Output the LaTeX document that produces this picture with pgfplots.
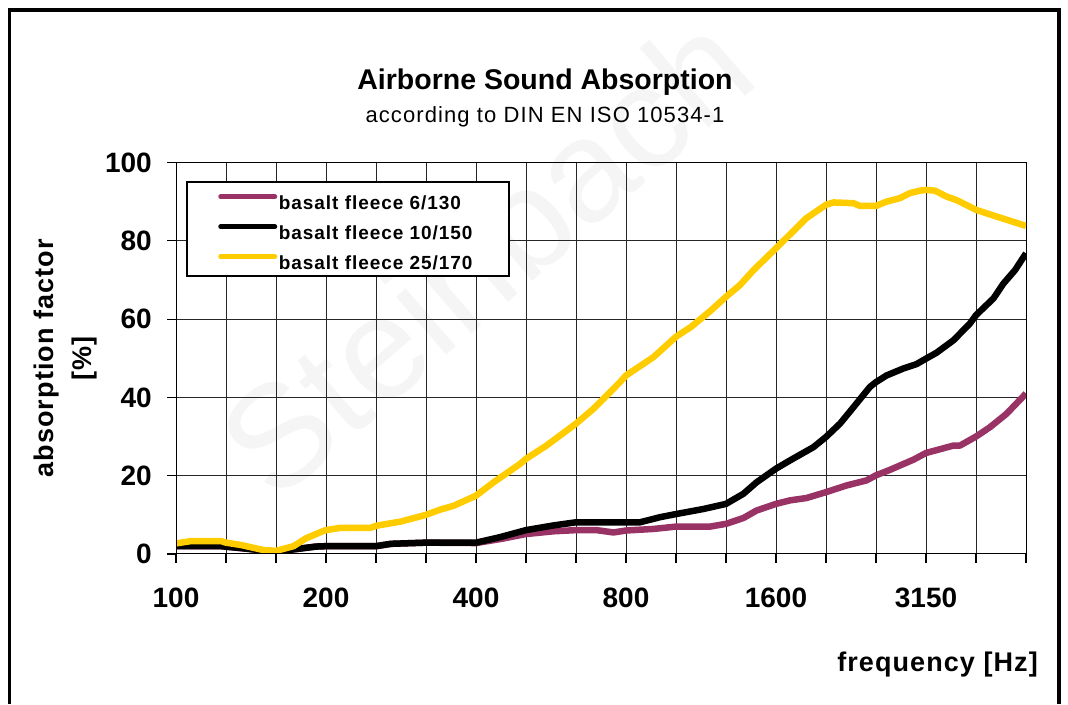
\documentclass[border=0pt]{standalone}
\usepackage{fontspec}
\setmainfont{Liberation Sans}
\usepackage{pgfplots}
\pgfplotsset{compat=1.18}

\definecolor{plum}{HTML}{993366}
\definecolor{gold}{HTML}{FFCC00}

\begin{document}
\begin{tikzpicture}
\path[use as bounding box] (0pt,0pt) rectangle (1068pt,704pt);
% faint watermark
\node[rotate=41, text=black!4, font=\fontsize{145}{145}\selectfont] at (485pt,450pt) {Steinbach};
% frame
\draw[line width=3.3pt] (9.5pt,0pt) -- (9.5pt,694pt) -- (1059pt,694pt) -- (1059pt,0pt);

\begin{axis}[
  at={(176pt,150pt)}, anchor=south west,
  scale only axis, width=850pt, height=391.5pt,
  xmin=0, xmax=17, ymin=0, ymax=100,
  xtick={0,1,...,17},
  xticklabels={100,,,200,,,400,,,800,,,1600,,,3150,,},
  ytick={0,20,40,60,80,100},
  tick pos=left, tick align=outside,
  major tick length=9pt,
  tick style={black, line width=1.1pt},
  grid=major,
  major grid style={black!85, line width=1pt},
  axis line style={black, line width=1pt},
  /pgf/number format/assume math mode=true,
  ticklabel style={font=\bfseries\fontsize{28}{28}\selectfont, inner sep=0pt},
  xticklabel shift=25pt, yticklabel shift=15pt,
  xlabel={frequency [Hz]},
  xlabel style={at={(axis description cs:1.0141,-0.3006)}, anchor=base east, inner sep=0pt,
    font={\bfseries\fontsize{27}{27}\selectfont\addfontfeatures{LetterSpace=4}}},
  ylabel={absorption factor\\{[\%]}},
  ylabel style={at={(axis description cs:-0.13,0.5)}, anchor=center, align=center,
    font={\bfseries\fontsize{27}{38}\selectfont\addfontfeatures{LetterSpace=4}}},
  legend cell align=left,
  legend style={at={(rel axis cs:0.0118,0.9527)}, anchor=north west,
    draw=black, line width=1.5pt, fill=white,
    inner xsep=0pt, inner ysep=2pt, row sep=0pt, column sep=0pt,
    font={\bfseries\fontsize{19}{22}\selectfont\addfontfeatures{LetterSpace=5}},
    nodes={inner sep=0pt, text width=230pt, align=left}},
  legend image code/.code={
    \path[draw=none, fill=none] (0pt,-10pt) rectangle (92pt,20pt);
    \draw[#1, line width=5pt, line cap=round] (34pt,7pt) -- (88pt,7pt);},
]
\addplot[plum, line width=6.5pt, line join=round] coordinates {
(0,2.0) (0.9,2.0) (1.3,1.5) (1.75,0.9) (2.0,0.6) (2.55,1.5) (2.8,1.9) (3.0,2.0)
(4.0,2.0) (4.3,2.6) (5.0,2.9) (6.0,2.8) (6.48,3.8) (7.0,5.1) (7.55,5.8) (8.0,6.1)
(8.41,6.1) (8.75,5.5) (9.0,6.0) (9.55,6.4) (10.0,7.0) (10.68,7.0) (11.0,7.7)
(11.35,9.2) (11.61,11.1) (12.0,12.8) (12.28,13.7) (12.61,14.3) (13.0,15.8)
(13.41,17.5) (13.81,18.8) (14.0,20.1) (14.28,21.5) (14.75,24.1) (15.0,25.8)
(15.55,27.7) (15.68,27.7) (16.0,30.0) (16.28,32.4) (16.61,35.8) (17.0,41.0)
};
\addlegendentry{basalt fleece 6/130}
\addplot[black, line width=6.5pt, line join=round] coordinates {
(0,2.0) (0.9,2.0) (1.3,1.5) (1.75,0.9) (2.0,0.6) (2.55,1.5) (2.8,1.9) (3.0,2.0)
(4.0,2.0) (4.3,2.6) (5.0,2.9) (6.0,2.9) (6.48,4.3) (7.0,6.1) (7.55,7.3) (8.0,8.1)
(9.28,8.1) (9.68,9.4) (10.0,10.2) (10.55,11.5) (11.0,12.8) (11.35,15.4)
(11.61,18.3) (12.0,21.8) (12.28,23.9) (12.75,27.3) (13.0,29.9) (13.28,33.3)
(13.55,37.5) (13.88,42.7) (14.0,43.9) (14.21,45.6) (14.55,47.4) (14.81,48.5)
(15.0,49.9) (15.21,51.4) (15.55,54.6) (15.88,58.9) (16.0,61.0) (16.35,65.3)
(16.55,69.1) (16.78,72.5) (17.0,76.8)
};
\addlegendentry{basalt fleece 10/150}
\addplot[gold, line width=6.5pt, line join=round] coordinates {
(0,2.7) (0.3,3.3) (0.9,3.3) (1.0,2.9) (1.3,2.3) (1.75,1.0) (2.0,0.8) (2.35,2.0)
(2.6,4.0) (2.95,5.9) (3.0,6.1) (3.3,6.7) (3.9,6.7) (4.0,7.2) (4.5,8.3) (5.0,10.0)
(5.3,11.4) (5.55,12.3) (6.0,14.9) (6.35,18.3) (6.88,23.0) (7.0,24.3) (7.41,27.7)
(8.0,33.3) (8.35,37.1) (8.88,43.9) (9.0,45.6) (9.55,50.3) (10.0,55.5) (10.3,58.0)
(10.68,62.0) (11.0,65.7) (11.28,68.7) (11.55,72.5) (12.0,78.1) (12.61,85.8)
(12.85,87.9) (13.0,89.2) (13.15,89.8) (13.55,89.6) (13.68,88.9) (14.0,88.9)
(14.21,90.0) (14.48,90.9) (14.68,92.2) (14.88,92.8) (15.0,93.0) (15.18,92.8)
(15.41,91.3) (15.61,90.4) (16.0,87.9) (16.41,86.2) (17.0,83.8)
};
\addlegendentry{basalt fleece 25/170}
\draw[black, line width=2pt] (rel axis cs:0,1) -- (rel axis cs:0,0) -- (rel axis cs:1,0);
\end{axis}

\node[font=\bfseries\fontsize{28.5}{30}\selectfont, anchor=base, inner sep=0pt] at (545pt,614pt) {Airborne Sound Absorption};
\node[font={\fontsize{22}{24}\selectfont\addfontfeatures{LetterSpace=5}}, anchor=base, inner sep=0pt] at (545pt,581pt) {according to DIN EN ISO 10534-1};
\end{tikzpicture}
\end{document}
